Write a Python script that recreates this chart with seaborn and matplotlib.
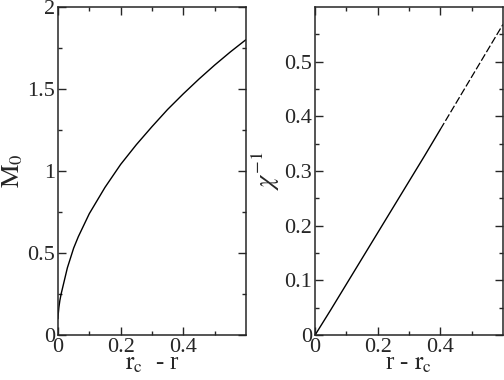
import numpy as np
import pandas as pd
import seaborn as sns
import matplotlib.pyplot as plt
from matplotlib.ticker import FixedLocator

# data
dr_left = [0.0, 0.001, 0.003, 0.006, 0.01, 0.015, 0.02, 0.03, 0.04, 0.05, 0.065, 0.08, 0.1, 0.125,
           0.15, 0.175, 0.2, 0.25, 0.3, 0.35, 0.4, 0.45, 0.5, 0.55, 0.6]
m0 = [0.1, 0.13, 0.17, 0.21, 0.25, 0.29, 0.33, 0.41, 0.47, 0.53, 0.6, 0.66, 0.74, 0.82,
      0.9, 0.97, 1.04, 1.16, 1.27, 1.375, 1.47, 1.56, 1.645, 1.725, 1.8]

dr_solid = [0.0, 0.05, 0.1, 0.15, 0.2, 0.25, 0.3, 0.35, 0.4]
chi_solid = [0.0, 0.046, 0.093, 0.14, 0.187, 0.234, 0.281, 0.328, 0.376]
dr_dash = [0.4, 0.45, 0.5, 0.55, 0.6]
chi_dash = [0.376, 0.424, 0.472, 0.52, 0.568]

sns.set_style('ticks')
plt.rcParams['font.family'] = ['Liberation Serif', 'DejaVu Serif']
plt.rcParams['mathtext.fontset'] = 'stix'
plt.rcParams['axes.linewidth'] = 1.1

fig = plt.figure(figsize=(5.04, 3.8), dpi=100)
ax1 = fig.add_axes([0.115, 0.118, 0.373, 0.864])
ax2 = fig.add_axes([0.625, 0.118, 0.373, 0.864])

left = pd.DataFrame({'x': dr_left, 'y': m0})
sns.lineplot(data=left, x='x', y='y', ax=ax1, color='black', lw=1.0)

solid = pd.DataFrame({'x': dr_solid, 'y': chi_solid})
dash = pd.DataFrame({'x': dr_dash, 'y': chi_dash})
sns.lineplot(data=solid, x='x', y='y', ax=ax2, color='black', lw=1.0)
sns.lineplot(data=dash, x='x', y='y', ax=ax2, color='black', lw=0.9, linestyle=(0, (6, 2)))

for ax in (ax1, ax2):
    ax.set_xlim(0, 0.6)
    ax.xaxis.set_major_locator(FixedLocator([0, 0.2, 0.4]))
    ax.xaxis.set_minor_locator(FixedLocator([0.1, 0.3, 0.5]))
    ax.set_xticklabels(['0', '0.2', '0.4'], family='Liberation Serif')
    ax.tick_params(which='both', direction='in', top=True, right=True, labelsize=16, width=1.0, pad=2)
    ax.tick_params(which='major', length=5.5)
    ax.tick_params(which='minor', length=3)

ax1.set_ylim(0, 2)
ax1.yaxis.set_major_locator(FixedLocator([0, 0.5, 1, 1.5, 2]))
ax1.yaxis.set_minor_locator(FixedLocator([0.25, 0.75, 1.25, 1.75]))
ax1.set_yticklabels(['0', '0.5', '1', '1.5', '2'], family='Liberation Serif')
ax1.set_xlabel(r'$\mathrm{r_c}$  - r', fontsize=18, labelpad=-3)
ax1.set_ylabel(r'$\mathrm{M_0}$', fontsize=19, labelpad=2)

ax2.set_ylim(0, 0.6)
ax2.yaxis.set_major_locator(FixedLocator([0, 0.1, 0.2, 0.3, 0.4, 0.5]))
ax2.yaxis.set_minor_locator(FixedLocator([0.05, 0.15, 0.25, 0.35, 0.45, 0.55]))
ax2.set_yticklabels(['0', '0.1', '0.2', '0.3', '0.4', '0.5'], family='Liberation Serif')
ax2.set_xlabel(r'r - $\mathrm{r_c}$', fontsize=18, labelpad=-3)
ax2.set_ylabel(r'$\chi^{-1}$', fontsize=19, labelpad=2)

plt.savefig('out.png', dpi=100)
